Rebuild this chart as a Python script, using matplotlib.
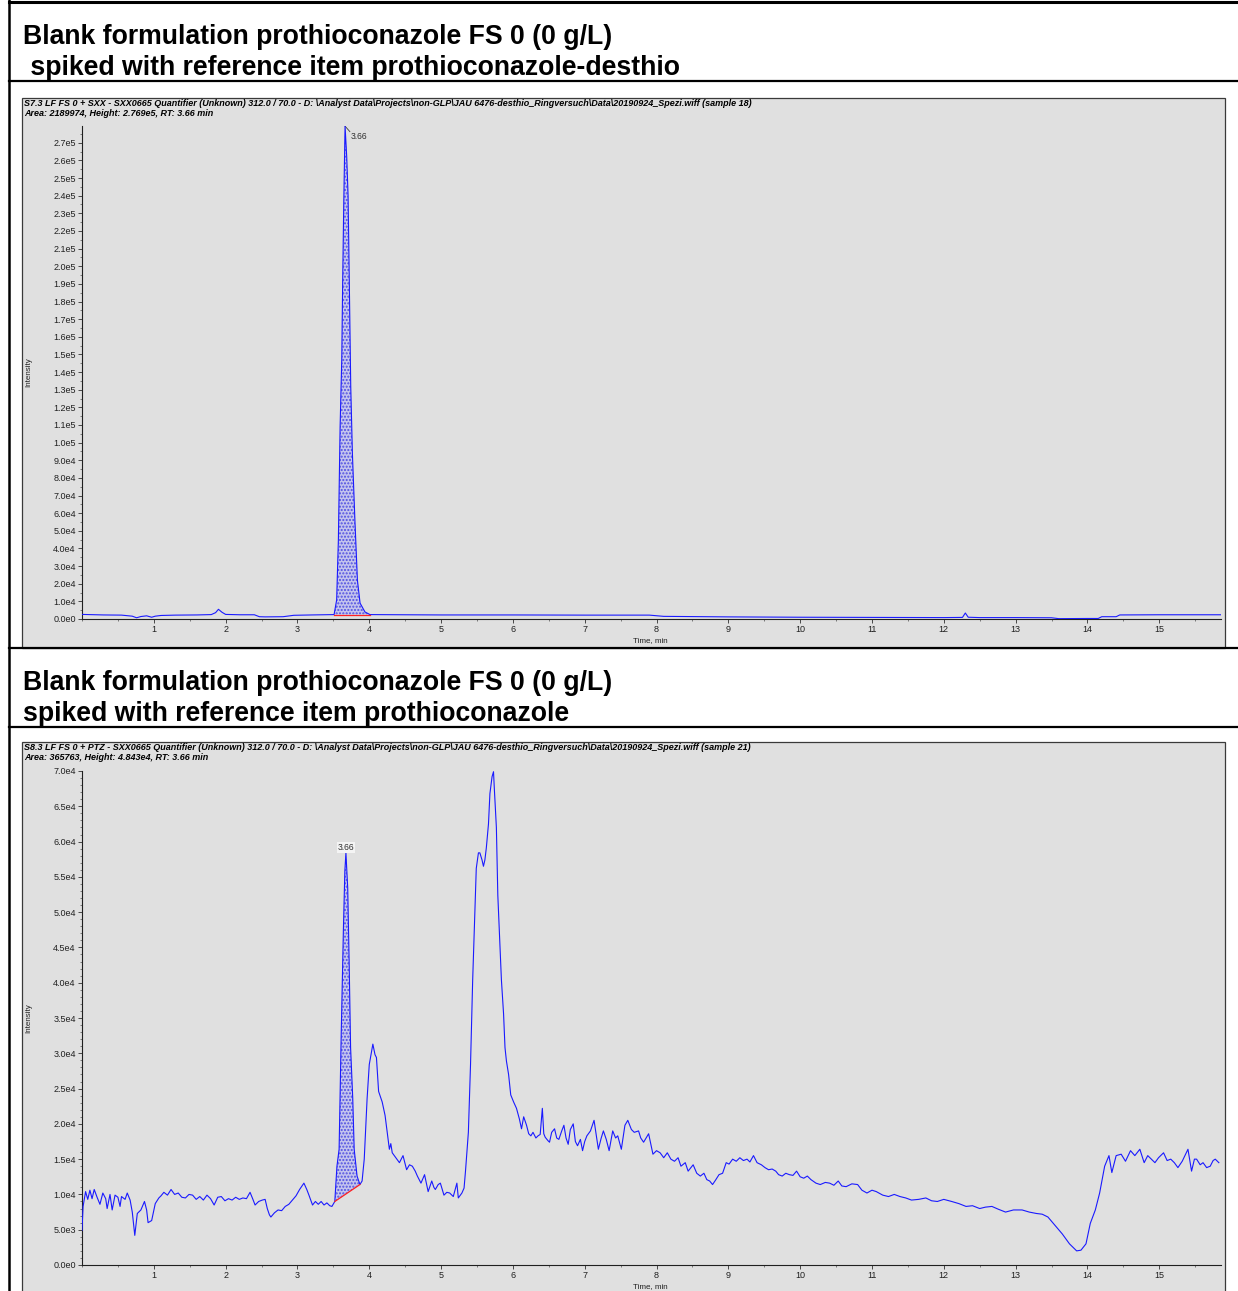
import matplotlib
matplotlib.use('Agg')
import matplotlib.pyplot as plt
import numpy as np
from matplotlib import font_manager as fm
from matplotlib.patches import Rectangle
from matplotlib.lines import Line2D
from matplotlib.ticker import MultipleLocator, FixedLocator, FuncFormatter

# ---- titles / header texts ----
title1 = ["Blank formulation prothioconazole FS 0 (0 g/L)",
          " spiked with reference item prothioconazole-desthio"]
title2 = ["Blank formulation prothioconazole FS 0 (0 g/L)",
          "spiked with reference item prothioconazole"]
header1 = ["S7.3 LF FS 0 + SXX - SXX0665 Quantifier (Unknown) 312.0 / 70.0 - D: \\Analyst Data\\Projects\\non-GLP\\JAU 6476-desthio_Ringversuch\\Data\\20190924_Spezi.wiff (sample 18)",
           "Area: 2189974, Height: 2.769e5, RT: 3.66 min"]
header2 = ["S8.3 LF FS 0 + PTZ - SXX0665 Quantifier (Unknown) 312.0 / 70.0 - D: \\Analyst Data\\Projects\\non-GLP\\JAU 6476-desthio_Ringversuch\\Data\\20190924_Spezi.wiff (sample 21)",
           "Area: 365763, Height: 4.843e4, RT: 3.66 min"]

# ---- chromatogram 1 (prothioconazole-desthio), intensity in 1e3 counts ----
t_desthio = [0.0, 0.3, 0.55, 0.7, 0.76, 0.82, 0.9, 0.97, 1.02, 1.1,
             1.3, 1.6, 1.8, 1.86, 1.9, 1.95, 2.0, 2.2, 2.4, 2.47,
             2.55, 2.8, 2.95, 3.2, 3.51, 3.546, 3.57, 3.594, 3.617, 3.63,
             3.645, 3.663, 3.686, 3.705, 3.723, 3.742, 3.765, 3.80, 3.835, 3.872,
             3.94, 4.01, 4.5, 5.0, 6.0, 7.0, 7.9, 8.1, 9.0, 10.0,
             11.0, 12.0, 12.26, 12.3, 12.34, 12.5, 13.0, 13.5, 13.6, 14.0,
             14.15, 14.2, 14.4, 14.45, 15.0, 15.86]
i_desthio = [2.6, 2.3, 2.2, 1.6, 0.7, 1.4, 1.8, 1.0, 1.6, 2.0,
             2.2, 2.3, 2.5, 3.6, 5.5, 3.8, 2.6, 2.4, 2.4, 1.3,
             1.2, 1.3, 2.1, 2.3, 2.5, 10.8, 45, 109, 147, 192,
             236, 279.4, 262, 240, 188, 132, 94, 56, 22, 9,
             4, 2.5, 2.4, 2.3, 2.3, 2.2, 2.2, 1.5, 1.2, 1.0,
             0.9, 0.8, 0.9, 3.4, 1.0, 0.8, 0.8, 0.7, 0.2, 0.3,
             0.3, 1.3, 1.3, 2.3, 2.4, 2.4]
desthio_int = (3.51, 4.01, 2.5, 2.5)   # start, end, base start, base end

# ---- chromatogram 2 (prothioconazole), intensity in 1e3 counts ----
t_ptz = [0.00, 0.015, 0.05, 0.08, 0.11, 0.14, 0.17, 0.21, 0.25, 0.29,
         0.33, 0.35, 0.39, 0.42, 0.46, 0.50, 0.53, 0.55, 0.60, 0.63,
         0.67, 0.70, 0.735, 0.77, 0.82, 0.87, 0.90, 0.92, 0.97, 1.02,
         1.07, 1.10, 1.14, 1.19, 1.24, 1.29, 1.34, 1.39, 1.44, 1.49,
         1.54, 1.59, 1.64, 1.69, 1.74, 1.79, 1.84, 1.89, 1.94, 1.99,
         2.04, 2.09, 2.14, 2.19, 2.24, 2.29, 2.34, 2.38, 2.41, 2.46,
         2.51, 2.55, 2.58, 2.61, 2.63, 2.68, 2.73, 2.78, 2.83, 2.88,
         2.93, 2.98, 3.03, 3.09, 3.13, 3.16, 3.21, 3.25, 3.29, 3.33,
         3.37, 3.41, 3.45, 3.48, 3.52, 3.55, 3.58, 3.61, 3.64, 3.66,
         3.675, 3.70, 3.72, 3.74, 3.77, 3.79, 3.83, 3.87, 3.90, 3.93,
         3.97, 4.00, 4.05, 4.08, 4.10, 4.13, 4.18, 4.22, 4.25, 4.28,
         4.30, 4.32, 4.37, 4.42, 4.47, 4.52, 4.56, 4.60, 4.64, 4.67,
         4.72, 4.77, 4.82, 4.87, 4.90, 4.92, 4.96, 4.99, 5.04, 5.08,
         5.12, 5.17, 5.22, 5.24, 5.29, 5.32, 5.34, 5.38, 5.41, 5.44,
         5.47, 5.49, 5.52, 5.54, 5.57, 5.59, 5.61, 5.63, 5.66, 5.68,
         5.71, 5.73, 5.74, 5.77, 5.79, 5.82, 5.84, 5.87, 5.89, 5.91,
         5.94, 5.97, 6.01, 6.05, 6.09, 6.12, 6.15, 6.19, 6.22, 6.25,
         6.28, 6.32, 6.35, 6.38, 6.41, 6.43, 6.45, 6.49, 6.51, 6.54,
         6.58, 6.61, 6.64, 6.68, 6.71, 6.74, 6.77, 6.80, 6.84, 6.87,
         6.90, 6.94, 6.97, 7.00, 7.03, 7.08, 7.13, 7.16, 7.19, 7.23,
         7.26, 7.30, 7.34, 7.39, 7.43, 7.46, 7.51, 7.56, 7.60, 7.65,
         7.69, 7.75, 7.78, 7.82, 7.89, 7.95, 8.00, 8.05, 8.10, 8.15,
         8.20, 8.25, 8.30, 8.34, 8.40, 8.44, 8.51, 8.56, 8.61, 8.66,
         8.70, 8.74, 8.78, 8.82, 8.87, 8.92, 8.97, 9.01, 9.06, 9.11,
         9.16, 9.21, 9.26, 9.30, 9.35, 9.40, 9.46, 9.51, 9.56, 9.61,
         9.66, 9.70, 9.75, 9.80, 9.85, 9.90, 9.95, 10.00, 10.05, 10.10,
         10.15, 10.22, 10.28, 10.35, 10.41, 10.47, 10.53, 10.58, 10.64, 10.72,
         10.80, 10.86, 10.93, 11.00, 11.06, 11.15, 11.23, 11.31, 11.39, 11.47,
         11.55, 11.65, 11.75, 11.83, 11.91, 12.00, 12.11, 12.21, 12.31, 12.40,
         12.50, 12.58, 12.67, 12.76, 12.86, 12.97, 13.09, 13.19, 13.29, 13.37,
         13.45, 13.55, 13.65, 13.75, 13.85, 13.91, 13.98, 14.04, 14.11, 14.17,
         14.24, 14.30, 14.34, 14.40, 14.47, 14.53, 14.60, 14.66, 14.73, 14.79,
         14.84, 14.89, 14.94, 14.99, 15.06, 15.11, 15.16, 15.21, 15.26, 15.32,
         15.40, 15.45, 15.49, 15.52, 15.57, 15.61, 15.66, 15.71, 15.75, 15.78,
         15.83]
i_ptz = [4.9, 8.3, 10.4, 9.3, 10.6, 9.4, 10.7, 9.6, 8.6, 10.2,
         9.4, 8.0, 10.0, 7.8, 9.9, 9.6, 8.3, 9.7, 9.3, 10.2,
         9.2, 7.5, 4.2, 7.3, 7.8, 9.0, 7.8, 6.0, 6.3, 8.7,
         9.5, 9.8, 10.3, 9.9, 10.7, 10.0, 10.2, 9.6, 9.5, 10.0,
         9.9, 9.3, 9.7, 9.2, 9.9, 9.4, 8.5, 9.6, 9.7, 9.1,
         9.4, 9.2, 9.6, 9.3, 9.5, 9.4, 10.3, 9.3, 8.5, 9.0,
         9.2, 9.3, 8.0, 7.1, 6.8, 7.4, 7.8, 7.7, 8.3, 8.6,
         9.2, 9.8, 10.7, 11.6, 10.7, 9.9, 8.5, 9.0, 8.6, 9.0,
         8.5, 8.8, 8.4, 8.3, 9.0, 14.0, 16.4, 33.0, 47.6, 55.8,
         58.4, 53.4, 42.8, 30.8, 23.6, 16.4, 12.6, 11.4, 11.9, 15.0,
         23.6, 28.4, 31.3, 29.8, 29.4, 24.6, 23.1, 21.2, 18.8, 16.4,
         17.2, 15.9, 15.2, 14.5, 15.5, 13.5, 14.2, 14.0, 13.3, 12.6,
         11.6, 12.8, 10.4, 11.9, 11.0, 10.7, 11.4, 11.6, 9.9, 10.3,
         10.2, 9.7, 11.6, 9.5, 10.2, 10.9, 13.3, 18.8, 28.4, 40.4,
         50.0, 56.2, 58.4, 58.4, 57.4, 56.5, 57.4, 59.1, 62.5, 66.8,
         69.2, 69.9, 67.8, 62.0, 52.4, 45.2, 40.4, 35.6, 30.8, 28.9,
         27.0, 24.1, 23.1, 22.2, 20.7, 19.3, 21.0, 19.8, 18.6, 18.3,
         18.8, 18.0, 18.3, 18.5, 22.2, 18.6, 18.1, 17.6, 17.4, 18.8,
         19.3, 18.0, 17.8, 19.0, 19.8, 18.0, 17.1, 19.2, 20.0, 17.5,
         16.9, 17.8, 16.2, 17.5, 18.3, 19.0, 20.5, 18.5, 16.4, 18.0,
         19.0, 17.8, 16.2, 19.0, 18.0, 18.3, 16.4, 19.8, 20.5, 19.2,
         18.8, 19.0, 18.0, 17.4, 18.6, 15.7, 16.2, 15.9, 15.2, 15.9,
         15.0, 14.7, 15.2, 14.0, 14.5, 13.3, 14.2, 13.0, 12.6, 13.0,
         12.1, 11.9, 11.4, 12.0, 12.8, 13.0, 14.5, 14.3, 15.0, 14.7,
         15.2, 14.8, 15.0, 14.6, 15.5, 14.5, 14.2, 13.8, 13.5, 13.6,
         13.3, 12.8, 12.6, 13.0, 12.8, 12.7, 13.3, 12.5, 12.3, 12.6,
         12.1, 11.6, 11.4, 11.7, 11.6, 11.3, 11.9, 11.2, 11.1, 11.5,
         11.4, 10.6, 10.2, 10.6, 10.4, 9.9, 9.7, 10.0, 9.7, 9.5,
         9.2, 9.3, 9.5, 9.1, 9.0, 9.3, 9.0, 8.7, 8.3, 8.4,
         8.0, 8.2, 8.3, 7.9, 7.5, 7.8, 7.8, 7.5, 7.3, 7.2,
         6.8, 5.6, 4.4, 3.0, 2.0, 2.1, 3.0, 5.9, 7.8, 10.2,
         14.0, 15.5, 13.1, 15.5, 15.7, 14.7, 16.2, 15.5, 16.4, 14.5,
         15.5, 15.0, 14.5, 15.2, 15.9, 14.8, 15.0, 14.5, 13.8, 14.7,
         16.4, 13.3, 15.0, 15.0, 14.2, 14.5, 13.8, 14.0, 14.8, 15.0,
         14.5]
ptz_int = (3.52, 3.87, 9.0, 11.4)

x_max = 15.86
ymax1, ymax2 = 2.795e5, 7.0e4

# ---- fonts ----
names = {f.name for f in fm.fontManager.ttflist}
narrow = 'Liberation Sans Narrow' in names
small_font = 'Liberation Sans Narrow' if narrow else 'Liberation Sans'
hdr_size = 7.6 if narrow else 6.5
tick_size = 7.4 if narrow else 6.5

W, H = 1238, 1291
fig = plt.figure(figsize=(W / 100, H / 100), dpi=100)
fig.patch.set_facecolor('white')


def box(x0, y0, x1, y1):
    return [x0 / W, 1 - y1 / H, (x1 - x0) / W, (y1 - y0) / H]


def hline(y, x0=9, x1=W, lw=1.6):
    fig.add_artist(Line2D([x0 / W, x1 / W], [1 - y / H, 1 - y / H],
                          color='black', lw=lw, transform=fig.transFigure, zorder=5))


def sci_fmt(v, pos):
    if v == 0:
        return '0.0e0'
    e = int(np.floor(np.log10(abs(v)) + 1e-9))
    return f"{v / 10 ** e:.1f}e{e}"


def chrom(ax_box, panel, t, vals, integ, ymax, ymajor, yminor, lab_y, title, title_y, header):
    top, bottom = panel
    # gray panel
    fig.add_artist(Rectangle((22 / W, 1 - bottom / H), (1225 - 22) / W, (bottom - top) / H,
                             transform=fig.transFigure, facecolor='#e0e0e0',
                             edgecolor='#3a3a3a', lw=0.9, zorder=0))
    for k, line in enumerate(title):
        fig.text(23 / W, 1 - (title_y + 31 * k) / H, line, fontsize=19.2, fontweight='bold',
                 family='Liberation Sans', va='center', ha='left')
    for k, line in enumerate(header):
        fig.text(24 / W, 1 - (top + 5 + 10 * k) / H, line, fontsize=hdr_size,
                 fontweight='bold', style='italic', family=small_font, va='center', ha='left')

    ax = fig.add_axes(box(*ax_box))
    ax.set_facecolor('none')
    tt = np.array(t)
    vv = np.array(vals) * 1e3
    ax.plot(tt, vv, color='#1a1aff', lw=0.8, zorder=3)

    t0, t1, b0, b1 = integ
    m = (tt >= t0) & (tt <= t1)
    ts = np.concatenate([[t0], tt[m], [t1]])
    vs = np.interp(ts, tt, vv)
    base = np.interp(ts, [t0, t1], [b0 * 1e3, b1 * 1e3])
    ax.fill_between(ts, base, vs, facecolor='#c4c4ee', edgecolor='#5050e0',
                    hatch='.....', lw=0, zorder=2)
    ax.plot([t0, t1], [b0 * 1e3, b1 * 1e3], color='#ff2020', lw=0.9, zorder=4)

    ax.set_xlim(0, x_max)
    ax.set_ylim(0, ymax)
    for s in ('top', 'right'):
        ax.spines[s].set_visible(False)
    for s in ('left', 'bottom'):
        ax.spines[s].set_linewidth(0.8)
        ax.spines[s].set_color('#202020')
    ax.xaxis.set_major_locator(FixedLocator(range(1, 16)))
    ax.xaxis.set_minor_locator(MultipleLocator(0.5))
    ax.yaxis.set_major_locator(MultipleLocator(ymajor))
    ax.yaxis.set_minor_locator(MultipleLocator(yminor))
    ax.yaxis.set_major_formatter(FuncFormatter(sci_fmt))
    ax.tick_params(which='major', direction='out', length=3, width=0.6, color='#303030',
                   labelsize=tick_size, labelcolor='#202020', pad=1.5)
    ax.tick_params(which='minor', direction='out', length=1.5, width=0.5, color='#505050')
    for lab in ax.get_xticklabels() + ax.get_yticklabels():
        lab.set_family(small_font)

    mid = (ax_box[1] + ax_box[3]) / 2
    fig.text(29 / W, 1 - mid / H, 'Intensity', rotation=90, fontsize=5.8,
             family=small_font, va='center', ha='center', color='#202020')
    fig.text(650 / W, 1 - lab_y / H, 'Time, min', fontsize=5.8,
             family=small_font, va='center', ha='center', color='#202020')
    return ax


ax1 = chrom((82, 126, 1221, 619), (98, 648), t_desthio, i_desthio, desthio_int, ymax1,
            1e4, 5e3, 641, title1, 37, header1)
ax1.plot([3.663, 3.73], [2.794e5, 2.763e5], color='#404040', lw=0.6)
ax1.text(3.735, 2.734e5, '3.66', fontsize=6.2, family='Liberation Sans',
         va='center', ha='left', color='#303030')

ax2 = chrom((82, 771, 1221, 1265), (742, 1300), t_ptz, i_ptz, ptz_int, ymax2,
            5e3, 1e3, 1287, title2, 683, header2)
ax2.text(3.68, 5.92e4, '3.66', fontsize=6.2, family='Liberation Sans', va='center',
         ha='center', color='#303030',
         bbox=dict(facecolor='#f4f4f4', edgecolor='none', pad=0.6))

# table borders
fig.add_artist(Line2D([9 / W, 9 / W], [0, 1], color='black', lw=1.8,
                      transform=fig.transFigure, zorder=5))
hline(2, lw=2.2)
hline(81)
hline(648)
hline(727)

fig.savefig('out.png', dpi=100)
